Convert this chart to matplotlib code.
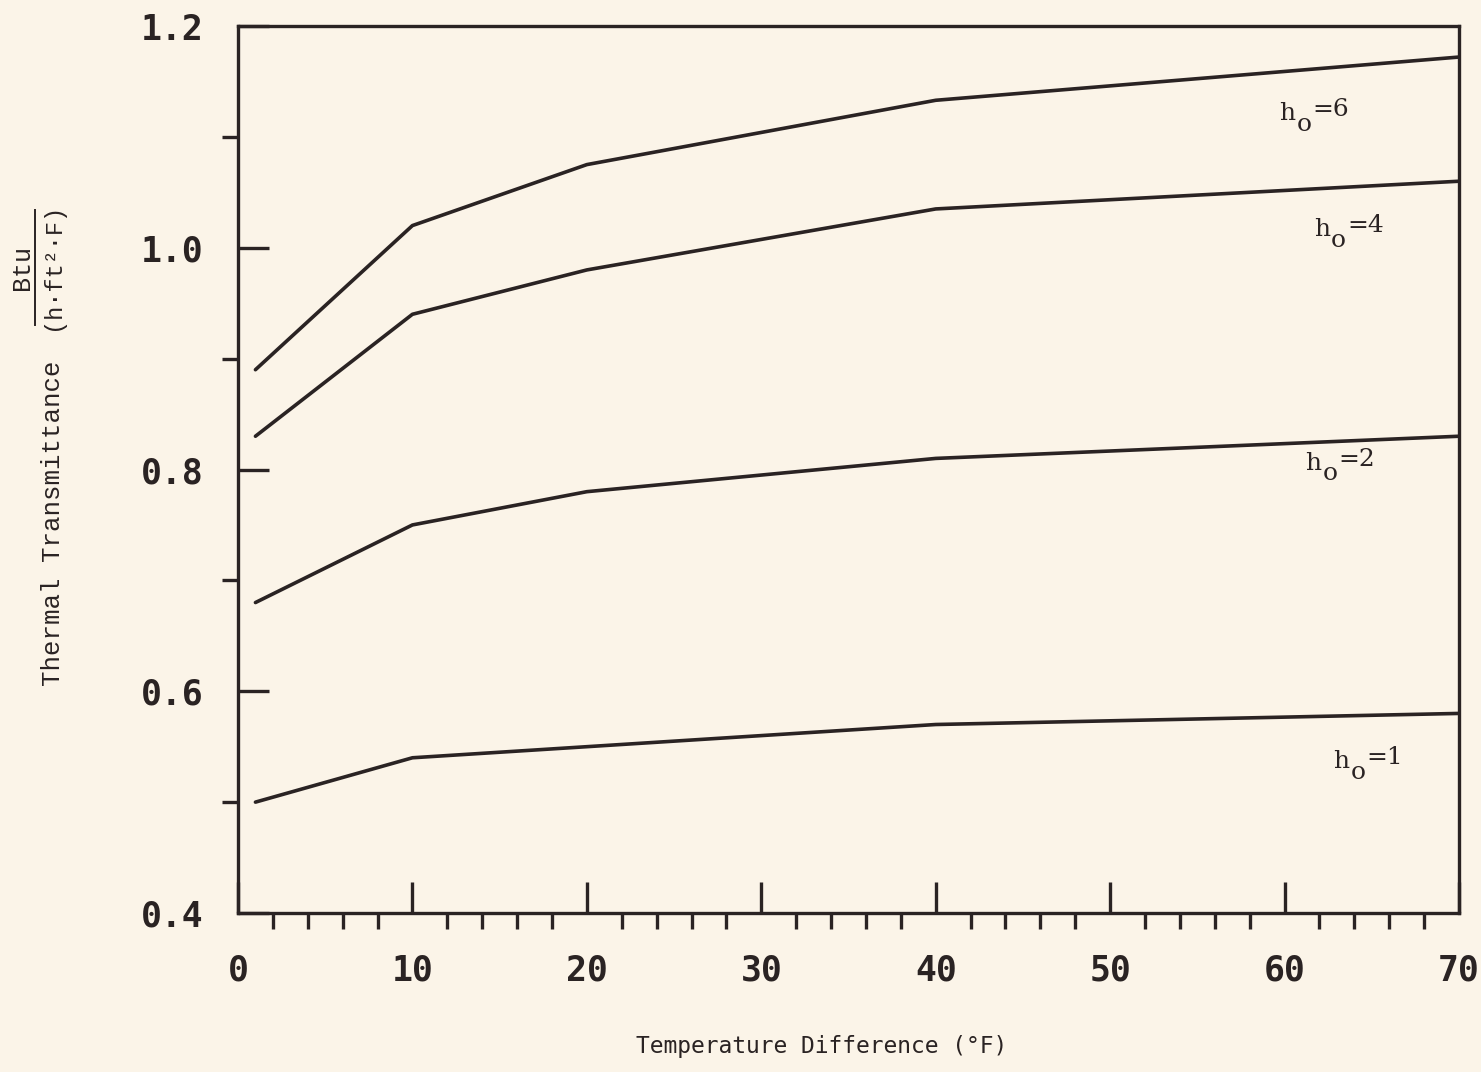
import matplotlib
matplotlib.use("Agg")
import matplotlib.pyplot as plt
from matplotlib.lines import Line2D
from matplotlib.transforms import offset_copy

# Temperature difference (°F) at which U was evaluated
temp_diff = [1, 10, 20, 40, 70]

# Thermal transmittance, Btu/(h·ft²·F), for each outside film coefficient h_o
u_h6 = [0.89, 1.02, 1.075, 1.133, 1.172]
u_h4 = [0.83, 0.94, 0.98, 1.035, 1.06]
u_h2 = [0.68, 0.75, 0.78, 0.81, 0.83]
u_h1 = [0.50, 0.54, 0.55, 0.57, 0.58]

series_labels = ["6", "4", "2", "1"]
label_x = [59.7, 61.7, 61.2, 62.8]
label_y = [1.115, 1.011, 0.800, 0.531]

x_ticks = [0, 10, 20, 30, 40, 50, 60, 70]
y_ticks = [0.4, 0.6, 0.8, 1.0, 1.2]
x_minor = [v for v in range(2, 70, 2) if v % 10 != 0]
y_minor = [0.5, 0.7, 0.9, 1.1]

paper = "#FBF4E8"
ink = "#2A2323"

fig = plt.figure(figsize=(14.81, 10.72), dpi=100, facecolor=paper)
ax = fig.add_axes([238 / 1481, 1 - 913 / 1072, 1221 / 1481, 887 / 1072])
ax.set_facecolor(paper)

for vals in (u_h6, u_h4, u_h2, u_h1):
    ax.plot(temp_diff, vals, color=ink, lw=2.6, solid_capstyle="round",
            solid_joinstyle="round")

ax.set_xlim(0, 70)
ax.set_ylim(0.4, 1.2)

for s in ax.spines.values():
    s.set_color(ink)
    s.set_linewidth(2.4)

ax.set_xticks(x_ticks)
ax.set_xticklabels([str(v) for v in x_ticks])
ax.set_yticks(y_ticks)
ax.set_yticklabels([f"{v:.1f}" for v in y_ticks])
ax.set_xticks(x_minor, minor=True)
ax.set_yticks(y_minor, minor=True)

ax.tick_params(axis="both", which="major", direction="in", length=22,
               width=2.4, color=ink, labelcolor=ink)
ax.tick_params(axis="both", which="minor", direction="out", length=11.5,
               width=2.4, color=ink)
ax.tick_params(axis="x", which="major", pad=29)
ax.tick_params(axis="y", which="major", pad=25)

for lab in ax.get_xticklabels() + ax.get_yticklabels():
    lab.set_fontfamily("DejaVu Sans Mono")
    lab.set_fontweight("bold")
    lab.set_fontsize(25)

# Curve labels: "h" with a dropped "o" and the value on a raised line
lab_kw = dict(family="DejaVu Serif", fontsize=18, color=ink,
              ha="left", va="baseline")
for txt, lx, ly in zip(series_labels, label_x, label_y):
    ax.text(lx, ly, "h", **lab_kw)
    ax.text(lx, ly, "o", transform=offset_copy(ax.transData, fig, 17, -11,
                                                units="dots"), **lab_kw)
    ax.text(lx, ly, "=" + txt, transform=offset_copy(ax.transData, fig, 33, 4,
                                                     units="dots"), **lab_kw)

# Axis titles
fig.text(822 / 1481, 1 - 1047 / 1072, "Temperature Difference (°F)",
         family="DejaVu Sans Mono", fontsize=16.5, color=ink,
         ha="center", va="center")
fig.text(53 / 1481, 1 - 523 / 1072, "Thermal Transmittance",
         family="Liberation Mono", fontsize=18.5, color=ink,
         rotation=90, ha="center", va="center")

# Units written as a stacked fraction
fig.text(22 / 1481, 1 - 267 / 1072, "Btu", family="Liberation Mono",
         fontsize=18, color=ink, rotation=90, ha="center", va="center")
fig.text(53 / 1481, 1 - 266 / 1072, "(h·ft²·F)", family="Liberation Mono",
         fontsize=17, color=ink, rotation=90, ha="center", va="center")
fig.add_artist(Line2D([35 / 1481, 35 / 1481], [1 - 325 / 1072, 1 - 210 / 1072],
                      transform=fig.transFigure, color=ink, lw=1.4))

fig.savefig("out.png", dpi=100, facecolor=paper)
